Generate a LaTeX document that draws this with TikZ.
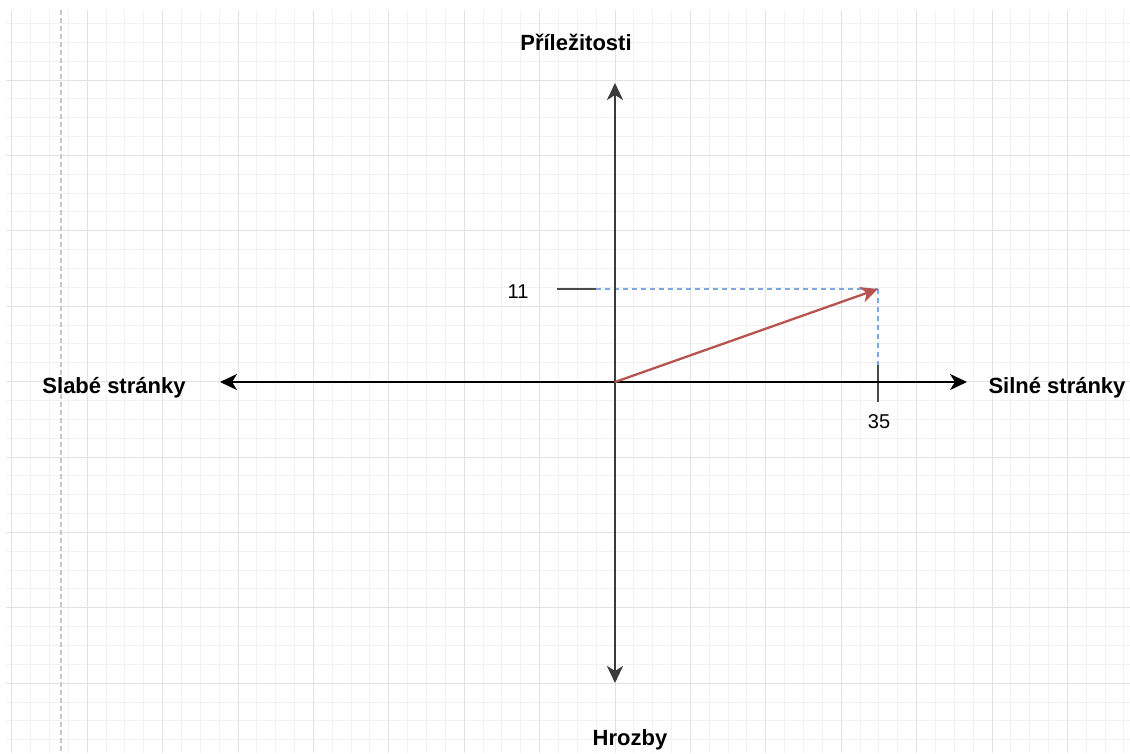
\documentclass[tikz,border=0pt]{standalone}
\usepackage{fontspec}
\setmainfont{Liberation Sans}
\usetikzlibrary{arrows.meta}
\definecolor{gridmajor}{HTML}{E2E2E2}
\definecolor{gridminor}{HTML}{F2F2F2}
\definecolor{pagebreak}{HTML}{C8C8C8}
\definecolor{vecred}{HTML}{B85450}
\definecolor{guideblue}{HTML}{7EA6E0}
\definecolor{tickgray}{HTML}{4A4A4A}
\definecolor{axisv}{HTML}{3A3A3A}
\tikzset{
  axisarrow/.style={line width=2.5pt,-{Stealth[length=17pt,width=16pt,inset=5pt]}},
  guide/.style={guideblue,line width=2.2pt,dash pattern=on 5pt off 4pt},
  tickmark/.style={tickgray,line width=2.5pt},
  axislabel/.style={font=\fontsize{22}{26}\selectfont\bfseries,anchor=base,inner sep=0pt},
  numlabel/.style={font=\fontsize{20}{24}\selectfont,anchor=base,inner sep=0pt}
}
\begin{document}
\begin{tikzpicture}[x=1pt,y=-1pt]
\useasboundingbox (0,0) rectangle (1130,753);
\fill[white] (0,0) rectangle (1130,753);
% grid
\begin{scope}
\clip (6,10) rectangle (1130,753);
\foreach \i in {0,...,59} {
  \draw[gridminor,line width=1pt] ({11.8+18.85*\i},0) -- ({11.8+18.85*\i},753);
}
\foreach \i in {-3,...,36} {
  \draw[gridminor,line width=1pt] (0,{80+18.85*\i}) -- (1130,{80+18.85*\i});
}
\foreach \i in {0,...,15} {
  \draw[gridmajor,line width=1pt] ({11.8+75.4*\i},0) -- ({11.8+75.4*\i},753);
}
\foreach \i in {-1,...,9} {
  \draw[gridmajor,line width=1pt] (0,{80+75.4*\i}) -- (1130,{80+75.4*\i});
}
\end{scope}
% page break line
\coordinate (pbtop) at (61,10);
\coordinate (pbbot) at (61,753);
\draw[pagebreak,line width=1.5pt,dash pattern=on 5pt off 3pt] (pbtop) -- (pbbot);

% coordinates
\coordinate (O) at (615,382);
\coordinate (top) at (615,83);
\coordinate (bottom) at (615,683);
\coordinate (left) at (220,382);
\coordinate (right) at (967,382);
\coordinate (P) at (878,289);
\coordinate (t11a) at (557,289);
\coordinate (t11b) at (596,289);
\coordinate (t35a) at (878,365);
\coordinate (t35b) at (878,402);
\coordinate (Px) at (878,382);

% guides
\draw[guide] (t11b) -- (P);
\draw[guide] (P) -- (Px);

% ticks
\draw[tickmark] (t11a) -- (t11b);
\draw[tickmark] (t35a) -- (t35b);

% axes
\draw[axisarrow,black,line width=2.2pt] (O) -- (right);
\draw[axisarrow,black,line width=2.2pt] (O) -- (left);
\draw[axisarrow,axisv] (O) -- (top);
\draw[axisarrow,axisv] (O) -- (bottom);

% vector
\draw[vecred,line width=2.3pt,-{Stealth[length=17pt,width=16pt,inset=5pt]}] (O) -- (P);

% labels
\node[axislabel] (lop) at (576,50.5) {Příležitosti};
\node[axislabel] (lthr) at (630,745) {Hrozby};
\node[axislabel] (lweak) at (114,393) {Slabé stránky};
\node[axislabel] (lstr) at (1057,393) {Silné stránky};
\node[numlabel] (n11) at (518,298) {11};
\node[numlabel] (n35) at (879,428) {35};
\end{tikzpicture}
\end{document}
